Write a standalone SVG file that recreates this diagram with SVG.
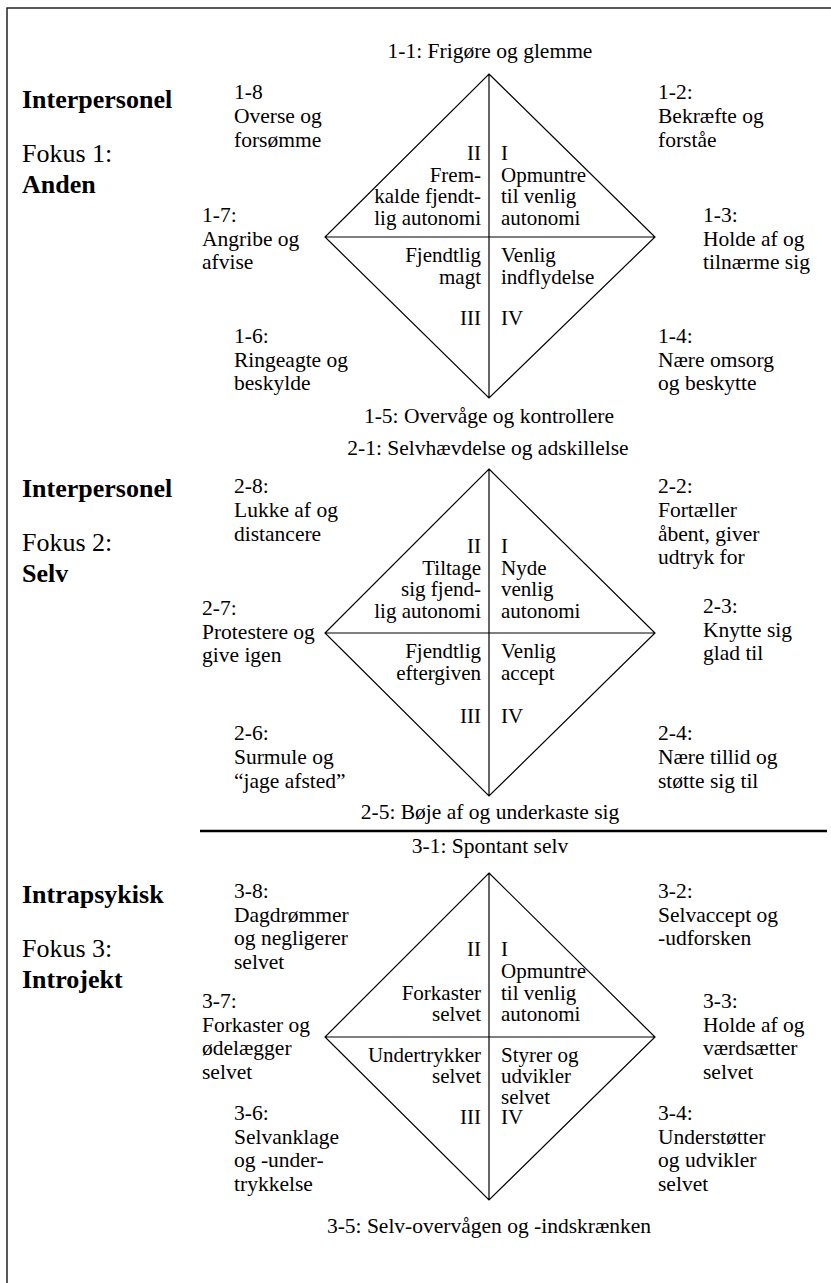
<svg xmlns="http://www.w3.org/2000/svg" width="831" height="1283" viewBox="0 0 831 1283" font-family="Liberation Serif, Times New Roman, serif">
<style>
text{font-family:'Liberation Serif','Times New Roman',serif;fill:#000}
.t{font-size:21.5px}
.q{font-size:21px}
.h{font-size:26px}
.b{font-weight:bold}
.e{text-anchor:end}
.m{text-anchor:middle}
.d{fill:none;stroke:#000;stroke-width:1.2}
</style>
<rect width="831" height="1283" fill="#fff"/>
<g id="frame" fill="none" stroke="#222" stroke-width="1.5">
<path d="M7 1283V8H831"/>
<path d="M200 831H827" stroke="#000" stroke-width="2.5"/>
</g>
<g id="connectors">
<g id="diamond1"><path class="d" d="M489 74L655 237L489 398L325 237Z M489 74V398 M325 237H655"/></g>
<g id="diamond2"><path class="d" d="M489 469L655 633L489 796L325 633Z M489 469V796 M325 633H655"/></g>
<g id="diamond3"><path class="d" d="M489 873L655 1037L489 1200L325 1037Z M489 873V1200 M325 1037H655"/></g>
</g>
<g id="section1">
<g id="head1"><text class="h b" x="22" y="108">Interpersonel</text><text class="h" x="22" y="162">Fokus 1:</text><text class="h b" x="22" y="193">Anden</text></g>
<g id="n1-1"><text class="t m" x="490" y="58">1-1: Frigøre og glemme</text></g>
<g id="n1-8"><text class="t" x="234" y="99">1-8<tspan x="234" dy="24">Overse og</tspan><tspan x="234" dy="24">forsømme</tspan></text></g>
<g id="n1-7"><text class="t" x="202" y="222">1-7:<tspan x="202" dy="24">Angribe og</tspan><tspan x="202" dy="23">afvise</tspan></text></g>
<g id="n1-6"><text class="t" x="234" y="343">1-6:<tspan x="234" dy="24">Ringeagte og</tspan><tspan x="234" dy="23">beskylde</tspan></text></g>
<g id="n1-5"><text class="t m" x="489" y="423">1-5: Overvåge og kontrollere</text></g>
<g id="n1-2"><text class="t" x="658" y="99">1-2:<tspan x="658" dy="24">Bekræfte og</tspan><tspan x="658" dy="24">forståe</tspan></text></g>
<g id="n1-3"><text class="t" x="703" y="222">1-3:<tspan x="703" dy="24">Holde af og</tspan><tspan x="703" dy="23">tilnærme sig</tspan></text></g>
<g id="n1-4"><text class="t" x="658" y="343">1-4:<tspan x="658" dy="24">Nære omsorg</tspan><tspan x="658" dy="23">og beskytte</tspan></text></g>
<g id="q1-2"><text class="q e" x="481" y="160">II<tspan x="481" dy="21.5">Frem-</tspan><tspan x="481" dy="21.5">kalde fjendt-</tspan><tspan x="481" dy="21.5">lig autonomi</tspan></text></g>
<g id="q1-1"><text class="q" x="501" y="160">I<tspan x="501" dy="21.5">Opmuntre</tspan><tspan x="501" dy="21.5">til venlig</tspan><tspan x="501" dy="21.5">autonomi</tspan></text></g>
<g id="q1-3"><text class="q e" x="481" y="262">Fjendtlig<tspan x="481" dy="21.5">magt</tspan><tspan x="481" y="325">III</tspan></text></g>
<g id="q1-4"><text class="q" x="501" y="262">Venlig<tspan x="501" dy="21.5">indflydelse</tspan><tspan x="501" y="325">IV</tspan></text></g>
</g>
<g id="section2">
<g id="head2"><text class="h b" x="22" y="497">Interpersonel</text><text class="h" x="22" y="551">Fokus 2:</text><text class="h b" x="22" y="582">Selv</text></g>
<g id="n2-1"><text class="t m" x="488" y="455">2-1: Selvhævdelse og adskillelse</text></g>
<g id="n2-8"><text class="t" x="234" y="493">2-8:<tspan x="234" dy="24">Lukke af og</tspan><tspan x="234" dy="23.5">distancere</tspan></text></g>
<g id="n2-7"><text class="t" x="202" y="615">2-7:<tspan x="202" dy="23.5">Protestere og</tspan><tspan x="202" dy="23.5">give igen</tspan></text></g>
<g id="n2-6"><text class="t" x="234" y="740">2-6:<tspan x="234" dy="24">Surmule og</tspan><tspan x="234" dy="23.5">“jage afsted”</tspan></text></g>
<g id="n2-5"><text class="t m" x="490" y="819">2-5: Bøje af og underkaste sig</text></g>
<g id="n2-2"><text class="t" x="658" y="493">2-2:<tspan x="658" dy="24">Fortæller</tspan><tspan x="658" dy="23.5">åbent, giver</tspan><tspan x="658" dy="23">udtryk for</tspan></text></g>
<g id="n2-3"><text class="t" x="703" y="613">2-3:<tspan x="703" dy="24">Knytte sig</tspan><tspan x="703" dy="23">glad til</tspan></text></g>
<g id="n2-4"><text class="t" x="658" y="740">2-4:<tspan x="658" dy="24">Nære tillid og</tspan><tspan x="658" dy="23.5">støtte sig til</tspan></text></g>
<g id="q2-2"><text class="q e" x="481" y="553">II<tspan x="481" dy="21.5">Tiltage</tspan><tspan x="481" dy="21.5">sig fjend-</tspan><tspan x="481" dy="21.5">lig autonomi</tspan></text></g>
<g id="q2-1"><text class="q" x="501" y="553">I<tspan x="501" dy="21.5">Nyde</tspan><tspan x="501" dy="21.5">venlig</tspan><tspan x="501" dy="21.5">autonomi</tspan></text></g>
<g id="q2-3"><text class="q e" x="481" y="658">Fjendtlig<tspan x="481" dy="21.5">eftergiven</tspan><tspan x="481" y="723">III</tspan></text></g>
<g id="q2-4"><text class="q" x="501" y="658">Venlig<tspan x="501" dy="21.5">accept</tspan><tspan x="501" y="723">IV</tspan></text></g>
</g>
<g id="section3">
<g id="head3"><text class="h b" x="22" y="903">Intrapsykisk</text><text class="h" x="22" y="957">Fokus 3:</text><text class="h b" x="22" y="988">Introjekt</text></g>
<g id="n3-1"><text class="t m" x="490" y="853">3-1: Spontant selv</text></g>
<g id="n3-8"><text class="t" x="234" y="898">3-8:<tspan x="234" dy="23.5">Dagdrømmer</tspan><tspan x="234" dy="23.5">og negligerer</tspan><tspan x="234" dy="23.5">selvet</tspan></text></g>
<g id="n3-7"><text class="t" x="202" y="1008">3-7:<tspan x="202" dy="23.5">Forkaster og</tspan><tspan x="202" dy="23.5">ødelægger</tspan><tspan x="202" dy="23.5">selvet</tspan></text></g>
<g id="n3-6"><text class="t" x="234" y="1120">3-6:<tspan x="234" dy="23.5">Selvanklage</tspan><tspan x="234" dy="23.5">og -under-</tspan><tspan x="234" dy="23.5">trykkelse</tspan></text></g>
<g id="n3-5"><text class="t m" x="489" y="1233">3-5: Selv-overvågen og -indskrænken</text></g>
<g id="n3-2"><text class="t" x="658" y="898">3-2:<tspan x="658" dy="23.5">Selvaccept og</tspan><tspan x="658" dy="23.5">-udforsken</tspan></text></g>
<g id="n3-3"><text class="t" x="703" y="1008">3-3:<tspan x="703" dy="23.5">Holde af og</tspan><tspan x="703" dy="23.5">værdsætter</tspan><tspan x="703" dy="23.5">selvet</tspan></text></g>
<g id="n3-4"><text class="t" x="658" y="1120">3-4:<tspan x="658" dy="23.5">Understøtter</tspan><tspan x="658" dy="23.5">og udvikler</tspan><tspan x="658" dy="23.5">selvet</tspan></text></g>
<g id="q3-2"><text class="q e" x="481" y="956">II<tspan x="481" y="1000">Forkaster</tspan><tspan x="481" dy="21">selvet</tspan></text></g>
<g id="q3-1"><text class="q" x="501" y="956">I<tspan x="501" dy="22">Opmuntre</tspan><tspan x="501" dy="22">til venlig</tspan><tspan x="501" dy="21">autonomi</tspan></text></g>
<g id="q3-3"><text class="q e" x="481" y="1062">Undertrykker<tspan x="481" dy="21">selvet</tspan><tspan x="481" y="1124">III</tspan></text></g>
<g id="q3-4"><text class="q" x="501" y="1062">Styrer og<tspan x="501" dy="21">udvikler</tspan><tspan x="501" dy="21">selvet</tspan><tspan x="501" y="1124">IV</tspan></text></g>
</g>
</svg>
